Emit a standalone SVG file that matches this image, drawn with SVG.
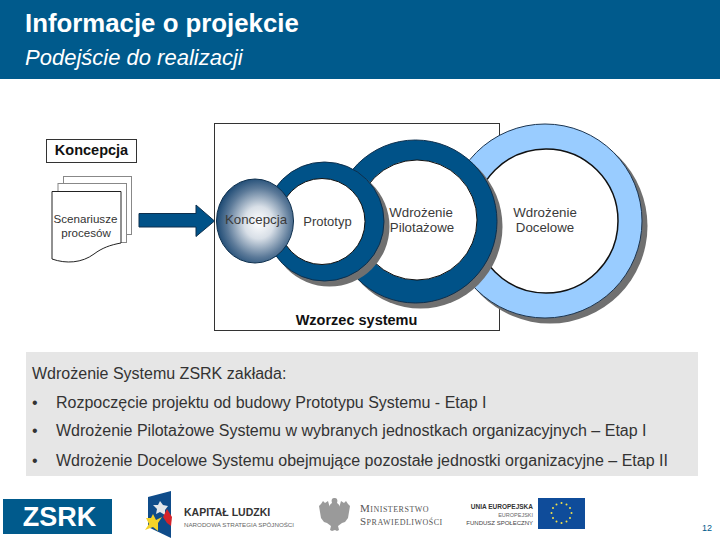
<svg xmlns="http://www.w3.org/2000/svg" width="720" height="540" viewBox="0 0 720 540">
<style>
text{font-family:"Liberation Sans",Arial,sans-serif}
.t{font-size:13.300px;fill:#3a3a3a}
.b{font-size:14.500px;font-weight:bold;fill:#111}
.li{font-size:16px;fill:#333}
.sh{fill:#707070}
.page{fill:#fff;stroke:#222;stroke-width:1}
.back{fill:#fff;stroke:#888;stroke-width:1}
.serif{font-family:"Liberation Serif",serif;font-variant:small-caps;font-size:11px;letter-spacing:0.500px;fill:#555}
</style>
<defs>
<radialGradient id="sphere" cx="0.55" cy="0.52" r="0.55">
<stop offset="0" stop-color="#ffffff"/><stop offset="0.35" stop-color="#d8dfe7"/><stop offset="0.75" stop-color="#5c7a99"/><stop offset="1" stop-color="#1d4a74"/>
</radialGradient>
</defs>
<rect width="720" height="540" fill="#fff"/>
<g id="header">
<rect width="720" height="79" fill="#005a8c"/>
<text x="25" y="32" font-size="25.800" font-weight="bold" fill="#fff">Informacje o projekcie</text>
<text x="25" y="65" font-size="22" font-style="italic" fill="#fff">Podejście do realizacji</text>
</g>
<g id="wzorzec-frame"><rect x="214.500" y="123.500" width="285" height="207" fill="#fff" stroke="#333" stroke-width="1"/></g>
<g id="ring-docelowe">
<circle cx="550" cy="226" r="97.500" class="sh"/>
<circle cx="545" cy="221" r="97" fill="#99ccff" stroke="#1c3550" stroke-width="1"/>
<circle cx="546" cy="221" r="72" fill="#fff" stroke="#111" stroke-width="1.500"/>
<text class="t" x="545" y="217" text-anchor="middle">Wdrożenie</text>
<text class="t" x="545" y="232" text-anchor="middle">Docelowe</text>
</g>
<g id="ring-pilotazowe">
<circle cx="420.500" cy="226.500" r="82" class="sh"/>
<circle cx="415.500" cy="221.500" r="81.500" fill="#005288" stroke="#0d2f4d" stroke-width="1"/>
<circle cx="417" cy="220" r="60" fill="#fff" stroke="#111" stroke-width="1"/>
<text class="t" x="421" y="217" text-anchor="middle">Wdrożenie</text>
<text class="t" x="422" y="232" text-anchor="middle">Pilotażowe</text>
</g>
<g id="ring-prototyp">
<circle cx="329.500" cy="226.500" r="60" class="sh"/>
<circle cx="324.500" cy="221.500" r="59.500" fill="#005288" stroke="#0d2f4d" stroke-width="1"/>
<circle cx="322" cy="221.500" r="43" fill="#fff" stroke="#111" stroke-width="1"/>
<text class="t" x="327.500" y="226" text-anchor="middle" style="font-size:13px">Prototyp</text>
</g>
<g id="sphere-koncepcja">
<ellipse cx="255" cy="221" rx="38.500" ry="42" fill="url(#sphere)" stroke="#0d2f4d" stroke-width="1"/>
<text class="t" x="256" y="224" text-anchor="middle">Koncepcja</text>
</g>
<g id="label-wzorzec"><text class="b" x="356.500" y="325" text-anchor="middle">Wzorzec systemu</text></g>
<g id="label-koncepcja">
<rect x="46.500" y="139.500" width="90" height="23" fill="#fff" stroke="#333" stroke-width="1"/>
<text class="b" x="91.500" y="155" text-anchor="middle">Koncepcja</text>
</g>
<g id="doc-scenariusze">
<rect x="63.500" y="176.500" width="68" height="58" class="back"/>
<rect x="58" y="183.500" width="68.500" height="59" class="back"/>
<path class="page" d="M52 191.500H121V243C110 245 102 248 94 254C82 263 66 264 52 259Z"/>
<text x="85.500" y="223" text-anchor="middle" font-size="11.600" fill="#333">Scenariusze</text>
<text x="86" y="237" text-anchor="middle" font-size="11.600" fill="#333">procesów</text>
</g>
<g id="connectors">
<polygon points="139,213.500 196,213.500 196,205 214.500,221 196,236.500 196,227 139,227" fill="#005288" stroke="#0d2f4d" stroke-width="1"/>
</g>
<g id="panel">
<rect x="26" y="352" width="672" height="124" fill="#e6e6e6"/>
<text class="li" x="32" y="379">Wdrożenie Systemu ZSRK zakłada:</text>
<text class="li" x="32" y="408">•</text><text class="li" x="56" y="408">Rozpoczęcie projektu od budowy Prototypu Systemu - Etap I</text>
<text class="li" x="32" y="436">•</text><text class="li" x="56" y="436">Wdrożenie Pilotażowe Systemu w wybranych jednostkach organizacyjnych – Etap I</text>
<text class="li" x="32" y="466">•</text><text class="li" x="56" y="466">Wdrożenie Docelowe Systemu obejmujące pozostałe jednostki organizacyjne – Etap II</text>
</g>
<g id="logo-zsrk">
<rect x="3" y="499" width="109" height="35" fill="#005a8c"/>
<text x="59.500" y="526" text-anchor="middle" font-size="27" font-weight="bold" fill="#fff">ZSRK</text>
</g>
<g id="logo-kapital">
<polygon points="148,497 171,491 171,538 148,527" fill="#0f4c8a"/>
<polygon points="160,501 163,505 168,506 165,510 165,515 160,512 156,514 157,509 153,505 158,505" fill="#e4e6ea"/>
<polygon points="167,509 172,517 171,526 167,523 163,517" fill="#d5232a"/>
<polygon points="153,514 156,520 162,517 158,523 158,531 153,527 145,530 149,524 146,518 151,518" fill="#f5d328"/>
<text x="184" y="516" font-size="10.500" font-weight="bold" fill="#333">KAPITAŁ LUDZKI</text>
<text x="184" y="527" font-size="6.200" fill="#666">NARODOWA STRATEGIA SPÓJNOŚCI</text>
</g>
<g id="logo-ministerstwo">
<path d="M335 498c2 0 3 2 2 5 2 1 3 3 2 5l2-7 3 2 2-2 2 3 2 2-1 6-1 6-3 4-3 1-4 3 1 4-2 1-2-1-3 1-2-1 1-4-4-3-3-1-3-4-1-6-1-6 2-2 2-3 2 2 3-2 2 7c-1-2 0-4 2-5-1-3 0-5 2-5z" fill="#9a9a9a"/>
<text class="serif" x="360" y="512">Ministerstwo</text>
<text class="serif" x="360" y="525">Sprawiedliwości</text>
</g>
<g id="logo-ue">
<text x="533" y="509" text-anchor="end" font-size="6.500" font-weight="bold" fill="#333">UNIA EUROPEJSKA</text>
<text x="533" y="517" text-anchor="end" font-size="5.500" fill="#666">EUROPEJSKI</text>
<text x="533" y="525" text-anchor="end" font-size="6" fill="#444">FUNDUSZ SPOŁECZNY</text>
<rect x="538" y="498" width="47" height="31" fill="#0f4c9a"/>
<g fill="#f3e14a">
<circle cx="561.500" cy="503" r="1"/><circle cx="566.500" cy="504.500" r="1"/><circle cx="570" cy="508" r="1"/><circle cx="571.500" cy="513" r="1"/><circle cx="570" cy="518" r="1"/><circle cx="566.500" cy="521.500" r="1"/><circle cx="561.500" cy="523" r="1"/><circle cx="556.500" cy="521.500" r="1"/><circle cx="553" cy="518" r="1"/><circle cx="551.500" cy="513" r="1"/><circle cx="553" cy="508" r="1"/><circle cx="556.500" cy="504.500" r="1"/>
</g>
</g>
<g id="page-number"><text x="707" y="531" text-anchor="middle" font-size="9" fill="#005a8c">12</text></g>
</svg>
